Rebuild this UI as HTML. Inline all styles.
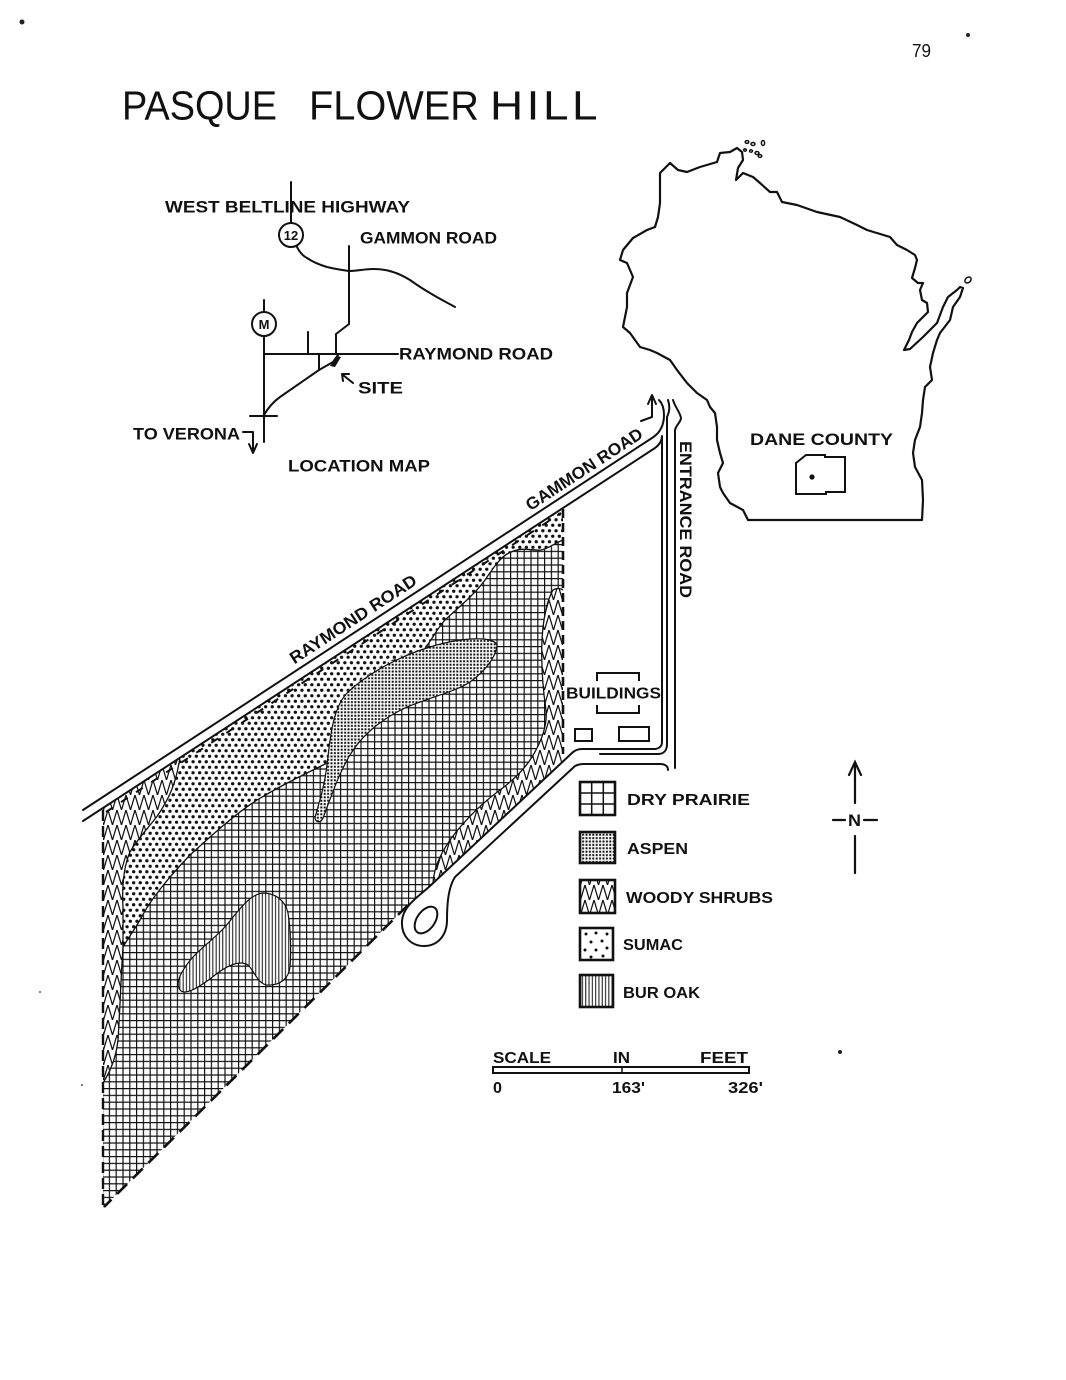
<!DOCTYPE html>
<html>
<head>
<meta charset="utf-8">
<style>
html,body{margin:0;padding:0;background:#fff;}
svg{display:block;}
.t{font-family:"Liberation Sans",Arial,sans-serif;font-weight:bold;fill:#111;}
.r{font-family:"Liberation Sans",Arial,sans-serif;font-weight:normal;fill:#111;}
</style>
</head>
<body>
<svg width="1066" height="1380" viewBox="0 0 1066 1380" xmlns="http://www.w3.org/2000/svg">
<defs>
  <pattern id="grid" width="6.8" height="6.8" patternUnits="userSpaceOnUse">
    <path d="M0,0.6H6.8M0.6,0V6.8" stroke="#111" stroke-width="1.2" fill="none"/>
  </pattern>
  <pattern id="sumac" width="6.6" height="11" patternUnits="userSpaceOnUse">
    <circle cx="1.65" cy="2.75" r="1.65" fill="#111"/>
    <circle cx="4.95" cy="8.25" r="1.65" fill="#111"/>
  </pattern>
  <pattern id="aspen" width="3.4" height="3.4" patternUnits="userSpaceOnUse">
    <rect x="0.7" y="0.7" width="2" height="2" fill="#111"/>
  </pattern>
  <pattern id="woody" width="9" height="15" patternUnits="userSpaceOnUse">
    <path d="M0,0L4.5,15L9,0" stroke="#111" stroke-width="1.25" fill="none"/>
  </pattern>
  <pattern id="oak" width="3.3" height="10" patternUnits="userSpaceOnUse">
    <path d="M1.65,0V10" stroke="#111" stroke-width="1"/>
  </pattern>
</defs>

<rect x="0" y="0" width="1066" height="1380" fill="#fff"/>

<!-- specks -->
<circle cx="22" cy="22" r="2.5" fill="#222"/>
<circle cx="968" cy="35" r="2" fill="#222"/>
<circle cx="840" cy="1052" r="2" fill="#222"/>
<circle cx="40" cy="992" r="1" fill="#555"/>
<circle cx="82" cy="1085" r="1" fill="#555"/>

<!-- Title & page number -->
<text class="r" x="912" y="57" font-size="18" textLength="19" lengthAdjust="spacingAndGlyphs">79</text>
<text class="r" x="122" y="119.5" font-size="41" textLength="155" lengthAdjust="spacingAndGlyphs">PASQUE</text>
<text class="r" x="309" y="119.5" font-size="41" textLength="170" lengthAdjust="spacingAndGlyphs">FLOWER</text>
<text class="r" transform="translate(490,119.5) scale(1.12,1)" x="0" y="0" font-size="41" textLength="96" lengthAdjust="spacing">HILL</text>

<!-- ================= LOCATION MAP ================= -->
<g stroke="#111" stroke-width="2" fill="none" stroke-linecap="round" stroke-linejoin="round">
  <line x1="291" y1="182" x2="291" y2="223"/>
  <circle cx="291" cy="235" r="12"/>
  <path d="M297,247 C300,253 303,256 307,258 C313,262 320,265 327,267 C335,269 342,270 349,271 C357,271 365,269 373,269 C381,269 387,270 393,272 C400,274 405,277 410,280 C417,285 423,289 430,293 C438,298 446,302 455,307"/>
  <polyline points="349,246 349,324 336,334 336,354"/>
  <line x1="264" y1="354" x2="398" y2="354"/>
  <circle cx="264" cy="324" r="12"/>
  <line x1="264" y1="300" x2="264" y2="312"/>
  <line x1="264" y1="336" x2="264" y2="442"/>
  <line x1="308" y1="332" x2="308" y2="354"/>
  <line x1="319" y1="354" x2="319" y2="370"/>
  <path d="M338,355 L333,362 L319,370 L280,397 C273,402 268,408 264,415"/>
  <line x1="250" y1="416" x2="277" y2="416"/>
  <line x1="353" y1="383" x2="343" y2="375"/>
  <path d="M343,381 L342,374 L349,374"/>
  <path d="M243,432 L253,432 L253,452"/>
  <path d="M249,444 L253,453 L257,444"/>
</g>
<polygon points="330,366 337,356 341,357 335,367" fill="#111"/>
<text class="t" x="291" y="240" font-size="13" text-anchor="middle">12</text>
<text class="t" x="264" y="329" font-size="13" text-anchor="middle">M</text>
<text class="t" x="165" y="212.5" font-size="17" textLength="245" lengthAdjust="spacingAndGlyphs">WEST BELTLINE HIGHWAY</text>
<text class="t" x="360" y="243.5" font-size="17" textLength="137" lengthAdjust="spacingAndGlyphs">GAMMON ROAD</text>
<text class="t" x="399" y="359.5" font-size="17" textLength="154" lengthAdjust="spacingAndGlyphs">RAYMOND ROAD</text>
<text class="t" x="358" y="393.5" font-size="17" textLength="45" lengthAdjust="spacingAndGlyphs">SITE</text>
<text class="t" x="133" y="439.5" font-size="17" textLength="107" lengthAdjust="spacingAndGlyphs">TO VERONA</text>
<text class="t" x="288" y="471.5" font-size="17" textLength="142" lengthAdjust="spacingAndGlyphs">LOCATION MAP</text>

<!-- ================= WISCONSIN ================= -->
<polygon fill="none" stroke="#111" stroke-width="2.2" stroke-linejoin="round"
 points="660,173 670,163 678,170 687,172 700,167 717,162 720,153 730,152 737,148 742,152 743,160 738,168 736,180 743,173 753,177 760,183 770,192 777,192 782,202 797,205 817,212 840,217 857,225 867,230 890,237 897,245 907,250 915,255 917,260 915,268 912,278 918,283 923,283 920,290 922,300 927,303 928,312 917,323 912,332 909,340 904,350 910,349 923,337 937,323 943,307 948,297 957,290 960,287 963,288 960,297 953,307 950,320 940,333 937,340 933,353 930,367 932,380 925,387 923,400 922,413 920,427 915,440 913,453 915,467 922,480 923,500 922,520 748,520 743,510 730,503 723,493 720,487 718,473 723,463 720,453 717,440 717,427 715,413 710,407 707,400 697,393 687,383 677,370 670,360 657,353 650,350 640,347 630,333 623,327 627,307 627,293 633,277 627,263 620,260 623,250 633,238 647,230 655,227 658,217 660,203"/>
<g fill="none" stroke="#111" stroke-width="1.5">
  <ellipse cx="747" cy="142" rx="1.8" ry="1.4"/>
  <ellipse cx="753" cy="144" rx="2" ry="1.5"/>
  <ellipse cx="763" cy="143" rx="1.6" ry="2.5"/>
  <ellipse cx="757" cy="153" rx="2" ry="1.5"/>
  <ellipse cx="751" cy="151" rx="1.5" ry="1.2"/>
  <ellipse cx="760" cy="156" rx="1.8" ry="1.4"/>
  <ellipse cx="745" cy="150" rx="1.3" ry="1.1"/>
  <ellipse cx="968" cy="280" rx="3.5" ry="2.5" transform="rotate(-40 968 280)"/>
</g>
<path d="M796,463 L806,455 L825,455 L825,457 L845,457 L845,492 L826,492 L826,494 L796,494 Z" fill="none" stroke="#111" stroke-width="2"/>
<circle cx="812" cy="477" r="2.6" fill="#111"/>
<text class="t" x="750" y="445" font-size="17" textLength="143" lengthAdjust="spacingAndGlyphs">DANE COUNTY</text>

<!-- ================= MAIN SITE MAP ================= -->
<polygon points="103,808 563,507 563,761 432,884 408,905 103,1208" fill="url(#grid)"/>

<!-- sumac -->
<path d="M180,757 L563,507 L563,540 C555,543 548,549 541,550 C532,551 522,546 509,553 C500,557 492,570 485,580 C475,594 458,608 445,620 C436,630 432,640 425,648 L398,657 C375,668 355,682 343,697 C333,712 331,735 327,763 C310,772 290,780 257,800 C235,814 212,835 190,855 C168,878 150,900 140,920 C133,932 127,940 123,947 L123,907 C122,890 123,868 130,852 C138,838 150,826 158,815 C168,800 176,785 180,757 Z" fill="#fff"/>
<path d="M180,757 L563,507 L563,540 C555,543 548,549 541,550 C532,551 522,546 509,553 C500,557 492,570 485,580 C475,594 458,608 445,620 C436,630 432,640 425,648 L398,657 C375,668 355,682 343,697 C333,712 331,735 327,763 C310,772 290,780 257,800 C235,814 212,835 190,855 C168,878 150,900 140,920 C133,932 127,940 123,947 L123,907 C122,890 123,868 130,852 C138,838 150,826 158,815 C168,800 176,785 180,757 Z" fill="url(#sumac)"/>

<!-- woody NW strip -->
<path d="M103,808 L180,757 C176,785 168,800 158,815 C150,826 138,838 130,852 C123,868 122,890 123,907 L123,947 C121,975 120,1010 118,1040 C116,1058 110,1072 103,1083 Z" fill="#fff"/>
<path d="M103,808 L180,757 C176,785 168,800 158,815 C150,826 138,838 130,852 C123,868 122,890 123,907 L123,947 C121,975 120,1010 118,1040 C116,1058 110,1072 103,1083 Z" fill="url(#woody)"/>

<!-- woody SE strip -->
<path d="M553,590 C556,588 560,588 563,590 L563,761 L433,883 C434,866 442,850 456,832 C470,815 485,801 500,790 C515,779 528,766 536,750 C545,733 547,720 546,710 C543,690 541,665 542,640 C543,620 547,600 553,590 Z" fill="#fff"/>
<path d="M553,590 C556,588 560,588 563,590 L563,761 L433,883 C434,866 442,850 456,832 C470,815 485,801 500,790 C515,779 528,766 536,750 C545,733 547,720 546,710 C543,690 541,665 542,640 C543,620 547,600 553,590 Z" fill="url(#woody)"/>

<!-- aspen -->
<path d="M497,645 C494,636 462,637 430,647 C400,656 370,672 348,692 C332,708 330,740 327,765 C324,790 318,805 315,818 C316,823 321,823 323,818 C330,800 338,775 350,755 C362,735 380,720 405,708 C430,697 455,692 470,682 C484,672 496,658 497,645 Z" fill="#fff"/>
<path d="M497,645 C494,636 462,637 430,647 C400,656 370,672 348,692 C332,708 330,740 327,765 C324,790 318,805 315,818 C316,823 321,823 323,818 C330,800 338,775 350,755 C362,735 380,720 405,708 C430,697 455,692 470,682 C484,672 496,658 497,645 Z" fill="url(#aspen)" stroke="#111" stroke-width="1.2"/>

<!-- bur oak -->
<path d="M263,893 C275,893 285,900 288,913 C291,930 291,955 290,967 C289,978 280,986 267,985 C258,984 255,972 248,965 C240,960 228,965 215,975 C200,987 185,996 180,990 C175,983 180,972 193,957 C205,944 220,935 233,917 C244,904 252,894 263,893 Z" fill="#fff"/>
<path d="M263,893 C275,893 285,900 288,913 C291,930 291,955 290,967 C289,978 280,986 267,985 C258,984 255,972 248,965 C240,960 228,965 215,975 C200,987 185,996 180,990 C175,983 180,972 193,957 C205,944 220,935 233,917 C244,904 252,894 263,893 Z" fill="url(#oak)" stroke="#111" stroke-width="1.2"/>

<!-- region boundaries -->
<g fill="none" stroke="#111" stroke-width="1.3">
  <path d="M563,540 C555,543 548,549 541,550 C532,551 522,546 509,553 C500,557 492,570 485,580 C475,594 458,608 445,620 C436,630 432,640 425,648"/>
  <path d="M327,763 C310,772 290,780 257,800 C235,814 212,835 190,855 C168,878 150,900 140,920 C133,932 127,940 123,947"/>
  <path d="M123,947 L123,907 C122,890 123,868 130,852 C138,838 150,826 158,815 C168,800 176,785 180,757"/>
  <path d="M123,947 C121,975 120,1010 118,1040 C116,1058 110,1072 103,1083"/>
  <path d="M433,883 C434,866 442,850 456,832 C470,815 485,801 500,790 C515,779 528,766 536,750 C545,733 547,720 546,710 C543,690 541,665 542,640 C543,620 547,600 553,590 C556,588 560,588 563,590"/>
</g>

<!-- fences (dashed) -->
<g stroke="#111" fill="none">
  <line x1="563" y1="509" x2="563" y2="754" stroke-width="2.6" stroke-dasharray="9 5"/>
  <line x1="103" y1="810" x2="103" y2="1206" stroke-width="2.4" stroke-dasharray="11 5"/>
  <line x1="408" y1="905" x2="104" y2="1207" stroke-width="2.6" stroke-dasharray="14 8"/>
  <line x1="106" y1="812" x2="561" y2="513" stroke-width="2" stroke-dasharray="8 10"/>
</g>

<!-- roads -->
<g stroke="#111" stroke-width="2" fill="none" stroke-linecap="round" stroke-linejoin="round">
  <path d="M83,810 L652,438 C660,433 664,425 664,415 C664,408 662,403 659,400"/>
  <path d="M83,821 L655,448 C659,445 662,441 662,436 L662,742 C662,747 658,749 654,749 L582,749 Q576,749 572,753 L430,886 C418,897 403,906 402,921 C401,936 411,946 424,946 C438,946 447,935 447,920 C447,905 448,888 455,877 L575,766 Q579,764 584,764 L660,764 C665,764 668,766 668,770"/>
  <path d="M668,400 C670,406 670,411 667,417 L667,744 C667,750 664,754 658,754 L600,754"/>
  <path d="M673,400 C675,407 680,412 681,418 C681,422 676,425 675,430 L675,768"/>
  <ellipse cx="426" cy="920" rx="15" ry="9" transform="rotate(-55 426 920)"/>
  <path d="M641,421 L652,417 L652,397"/>
  <path d="M648,404 L652,395 L656,404"/>
</g>

<!-- buildings -->
<g stroke="#111" stroke-width="2" fill="none">
  <path d="M597,681 L597,673 L639,673 L639,681"/>
  <path d="M597,705 L597,713 L639,713 L639,705"/>
  <rect x="575" y="729" width="17" height="12"/>
  <rect x="619" y="727" width="30" height="14"/>
</g>
<text class="t" x="566" y="698.5" font-size="16" textLength="95" lengthAdjust="spacingAndGlyphs">BUILDINGS</text>

<!-- road labels -->
<text class="t" transform="translate(353,619) rotate(-33.2)" x="-74" y="6" font-size="17" textLength="148" lengthAdjust="spacingAndGlyphs">RAYMOND ROAD</text>
<text class="t" transform="translate(584,469) rotate(-33.2)" x="-68" y="6" font-size="17" textLength="136" lengthAdjust="spacingAndGlyphs">GAMMON ROAD</text>
<text class="t" transform="translate(686,519.5) rotate(90)" x="-78.5" y="6" font-size="17" textLength="157" lengthAdjust="spacingAndGlyphs">ENTRANCE ROAD</text>

<!-- ================= LEGEND ================= -->
<g stroke="#111" fill="none">
  <rect x="580" y="782" width="35" height="33" stroke-width="2.6"/>
  <path d="M591.7,782V815M603.3,782V815M580,793H615M580,804H615" stroke-width="1.5"/>
  <rect x="580" y="832" width="35" height="31" fill="url(#aspen)" stroke-width="2.6"/>
  <rect x="580" y="880" width="35" height="33" fill="url(#woody)" stroke-width="2.6"/>
  <rect x="580" y="928" width="33" height="32" stroke-width="2.6"/>
  <rect x="580" y="975" width="33" height="32" fill="url(#oak)" stroke-width="2.6"/>
</g>
<g fill="#111">
  <circle cx="586" cy="934" r="1.5"/><circle cx="596" cy="933" r="1.5"/><circle cx="607" cy="934" r="1.5"/>
  <circle cx="591" cy="942" r="1.5"/><circle cx="602" cy="941" r="1.5"/>
  <circle cx="585" cy="950" r="1.5"/><circle cx="596" cy="950" r="1.5"/><circle cx="607" cy="948" r="1.5"/>
  <circle cx="591" cy="957" r="1.5"/><circle cx="603" cy="956" r="1.5"/>
</g>
<text class="t" x="627" y="805" font-size="16" textLength="123" lengthAdjust="spacingAndGlyphs">DRY PRAIRIE</text>
<text class="t" x="627" y="854" font-size="16" textLength="61" lengthAdjust="spacingAndGlyphs">ASPEN</text>
<text class="t" x="626" y="903" font-size="16" textLength="147" lengthAdjust="spacingAndGlyphs">WOODY SHRUBS</text>
<text class="t" x="623" y="950" font-size="16" textLength="60" lengthAdjust="spacingAndGlyphs">SUMAC</text>
<text class="t" x="623" y="998" font-size="16" textLength="77" lengthAdjust="spacingAndGlyphs">BUR OAK</text>

<!-- scale -->
<rect x="493" y="1067" width="256" height="6" fill="none" stroke="#111" stroke-width="2"/>
<line x1="622" y1="1067" x2="622" y2="1073" stroke="#111" stroke-width="1.5"/>
<text class="t" x="493" y="1063" font-size="16" textLength="58" lengthAdjust="spacingAndGlyphs">SCALE</text>
<text class="t" x="613" y="1063" font-size="16" textLength="17" lengthAdjust="spacingAndGlyphs">IN</text>
<text class="t" x="700" y="1063" font-size="16" textLength="48" lengthAdjust="spacingAndGlyphs">FEET</text>
<text class="t" x="493" y="1093" font-size="16" textLength="9" lengthAdjust="spacingAndGlyphs">0</text>
<text class="t" x="612" y="1093" font-size="16" textLength="33" lengthAdjust="spacingAndGlyphs">163'</text>
<text class="t" x="728" y="1093" font-size="16" textLength="35" lengthAdjust="spacingAndGlyphs">326'</text>

<!-- north arrow -->
<g stroke="#111" stroke-width="2.2" fill="none" stroke-linecap="round">
  <line x1="855" y1="764" x2="855" y2="803"/>
  <path d="M849,775 L855,762 L861,775"/>
  <line x1="855" y1="836" x2="855" y2="873"/>
  <line x1="833" y1="820" x2="845" y2="820"/>
  <line x1="864" y1="820" x2="877" y2="820"/>
</g>
<text class="t" x="848" y="826" font-size="17" textLength="13" lengthAdjust="spacingAndGlyphs">N</text>

</svg>
</body>
</html>
